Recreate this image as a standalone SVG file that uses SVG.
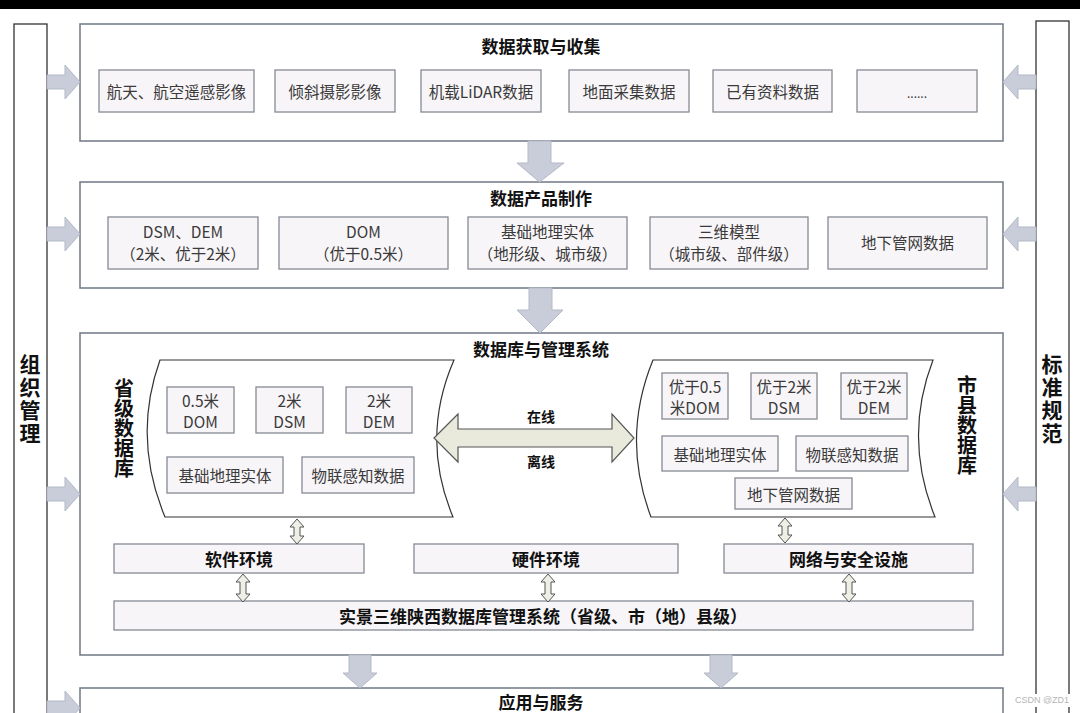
<svg xmlns="http://www.w3.org/2000/svg" width="1080" height="713" viewBox="0 0 1080 713">
<defs>
<style>
.sec{fill:#fff;stroke:#6f7884;stroke-width:1.5}
.bar{fill:#fff;stroke:#333;stroke-width:1.3}
.box{fill:#f8f5f8;stroke:#858a93;stroke-width:1.3}
.db{fill:#fff;stroke:#333;stroke-width:1.2}
.blk{fill:#c9cdd9;stroke:#b3b9c6;stroke-width:1}
.dbl{fill:#e9eadc;stroke:#555;stroke-width:1.2}
.sdbl{fill:#efefe6;stroke:#555;stroke-width:1}
text{font-family:"Noto Sans CJK SC","Noto Sans",sans-serif;dominant-baseline:central;text-anchor:middle}
.t{font-size:15.5px;fill:#3a3a3a}
.h{font-size:17px;font-weight:bold;fill:#111}
.v{font-size:20px;font-weight:bold;fill:#111;writing-mode:vertical-rl}
.v4{font-size:21px;letter-spacing:2px}
.wm{font-size:9px;fill:#b5b5b5;font-family:"Liberation Sans",sans-serif}
</style>
<path id="sarr" d="M0,0 L7,8 L3,8 L3,17 L7,17 L0,25 L-7,17 L-3,17 L-3,8 L-7,8 Z"/>
<path id="sarr2" d="M0,0 L7,8 L3,8 L3,20 L7,20 L0,28 L-7,20 L-3,20 L-3,8 L-7,8 Z"/>
</defs>
<rect x="0" y="0" width="1080" height="713" fill="#fff"/>
<rect x="0" y="0" width="1080" height="9" fill="#000"/>

<g id="org-bar">
<rect class="bar" x="14" y="24" width="33" height="700"/>
<text class="v v4" x="30" y="400">组织管理</text>
</g>
<g id="std-bar">
<rect class="bar" x="1036" y="21" width="33" height="700"/>
<text class="v v4" x="1052" y="400">标准规范</text>
</g>

<g id="sec1">
<rect class="sec" x="80" y="24" width="923" height="117"/>
<text class="h" x="541" y="45">数据获取与收集</text>
<rect class="box" x="99" y="70" width="155" height="42"/><text class="t" x="176.5" y="91">航天、航空遥感影像</text>
<rect class="box" x="275" y="70" width="120" height="42"/><text class="t" x="335" y="91">倾斜摄影影像</text>
<rect class="box" x="421" y="70" width="120" height="42"/><text class="t" x="481" y="91">机载LiDAR数据</text>
<rect class="box" x="569" y="70" width="120" height="42"/><text class="t" x="629" y="91">地面采集数据</text>
<rect class="box" x="713" y="70" width="119" height="42"/><text class="t" x="772.5" y="91">已有资料数据</text>
<rect class="box" x="857" y="70" width="120" height="42"/><text class="t" x="917" y="92" style="font-size:12px">......</text>
</g>

<g id="sec2">
<rect class="sec" x="80" y="182" width="923" height="106"/>
<text class="h" x="541" y="197">数据产品制作</text>
<rect class="box" x="108" y="217" width="150" height="52"/><text class="t" x="183" y="231">DSM、DEM</text><text class="t" x="183" y="253">（2米、优于2米）</text>
<rect class="box" x="279" y="217" width="169" height="52"/><text class="t" x="363.5" y="231">DOM</text><text class="t" x="363.5" y="253">（优于0.5米）</text>
<rect class="box" x="468" y="217" width="159" height="52"/><text class="t" x="547.5" y="231">基础地理实体</text><text class="t" x="547.5" y="253">（地形级、城市级）</text>
<rect class="box" x="650" y="217" width="158" height="52"/><text class="t" x="729" y="231">三维模型</text><text class="t" x="729" y="253">（城市级、部件级）</text>
<rect class="box" x="828" y="217" width="159" height="52"/><text class="t" x="907.5" y="242">地下管网数据</text>
</g>

<g id="sec3">
<rect class="sec" x="80" y="333" width="923" height="322"/>
<text class="h" x="541" y="348">数据库与管理系统</text>
</g>

<g id="prov-db">
<path class="db" d="M160,360 L454,360 Q420,438 453,517 L165,517 Q132,438 160,360 Z"/>
<text class="v" x="124" y="428">省级数据库</text>
<rect class="box" x="167" y="387" width="67" height="46"/><text class="t" x="200.5" y="400">0.5米</text><text class="t" x="200.5" y="421">DOM</text>
<rect class="box" x="256" y="387" width="67" height="46"/><text class="t" x="289.5" y="400">2米</text><text class="t" x="289.5" y="421">DSM</text>
<rect class="box" x="346" y="387" width="66" height="46"/><text class="t" x="379" y="400">2米</text><text class="t" x="379" y="421">DEM</text>
<rect class="box" x="167" y="457" width="116" height="36"/><text class="t" x="225" y="475">基础地理实体</text>
<rect class="box" x="302" y="457" width="112" height="36"/><text class="t" x="358" y="475">物联感知数据</text>
</g>

<g id="city-db">
<path class="db" d="M653,360 L933,360 Q903,438 935,517 L651,517 Q621,438 653,360 Z"/>
<text class="v" x="967" y="425">市县数据库</text>
<rect class="box" x="662" y="373" width="66" height="46"/><text class="t" x="695" y="386">优于0.5</text><text class="t" x="695" y="407">米DOM</text>
<rect class="box" x="751" y="373" width="66" height="46"/><text class="t" x="784" y="386">优于2米</text><text class="t" x="784" y="407">DSM</text>
<rect class="box" x="841" y="373" width="66" height="46"/><text class="t" x="874" y="386">优于2米</text><text class="t" x="874" y="407">DEM</text>
<rect class="box" x="662" y="436" width="116" height="35"/><text class="t" x="720" y="453.5">基础地理实体</text>
<rect class="box" x="796" y="436" width="112" height="35"/><text class="t" x="852" y="453.5">物联感知数据</text>
<rect class="box" x="735" y="478" width="117" height="31"/><text class="t" x="793.5" y="493.5">地下管网数据</text>
</g>

<g id="software"><rect class="box" x="114" y="544" width="250" height="29"/><text class="h" x="239" y="558">软件环境</text></g>
<g id="hardware"><rect class="box" x="414" y="544" width="264" height="29"/><text class="h" x="546" y="558">硬件环境</text></g>
<g id="network"><rect class="box" x="724" y="544" width="249" height="29"/><text class="h" x="848.5" y="558">网络与安全设施</text></g>
<g id="dbms"><rect class="box" x="114" y="601" width="859" height="29"/><text class="h" x="543" y="615">实景三维陕西数据库管理系统（省级、市（地）县级）</text></g>

<g id="sec4">
<rect class="sec" x="80" y="688" width="923" height="40"/>
<text class="h" x="541" y="701">应用与服务</text>
</g>

<g id="connectors">
<path class="blk" d="M47,75 H65 V65 L80,82 L65,99 V89 H47 Z"/>
<path class="blk" d="M47,227 H65 V217 L80,234 L65,251 V241 H47 Z"/>
<path class="blk" d="M47,487 H65 V477 L80,494 L65,511 V501 H47 Z"/>
<path class="blk" d="M47,701 H65 V691 L80,708 L65,725 V715 H47 Z"/>
<path class="blk" d="M1036,75 H1018 V65 L1003,82 L1018,99 V89 H1036 Z"/>
<path class="blk" d="M1036,227 H1018 V217 L1003,234 L1018,251 V241 H1036 Z"/>
<path class="blk" d="M1036,487 H1018 V477 L1003,494 L1018,511 V501 H1036 Z"/>
<path class="blk" d="M528,141 H551 V163 H564 L539.5,182 L517,163 H528 Z"/>
<path class="blk" d="M529,288 H552 V310 H563 L540,333 L517,310 H529 Z"/>
<path class="blk" d="M349,655 H371 V673 H377 L360,688 L343,673 H349 Z"/>
<path class="blk" d="M710,655 H732 V673 H738 L721,688 L704,673 H710 Z"/>
<path class="dbl" d="M434,438 L458,414 L458,429 L612,429 L612,414 L634,438 L612,462 L612,447 L458,447 L458,462 Z"/>
<use href="#sarr" class="sdbl" transform="translate(297,519)"/>
<use href="#sarr" class="sdbl" transform="translate(785,518)"/>
<use href="#sarr2" class="sdbl" transform="translate(243,574)"/>
<use href="#sarr2" class="sdbl" transform="translate(548,574)"/>
<use href="#sarr2" class="sdbl" transform="translate(849,574)"/>
</g>
<text class="h" x="541" y="416" style="font-size:14px">在线</text>
<text class="h" x="541" y="461" style="font-size:14px">离线</text>

<rect x="1012" y="694" width="60" height="13" fill="#fff"/>
<text class="wm" x="1042" y="700">CSDN @ZD1</text>
</svg>
